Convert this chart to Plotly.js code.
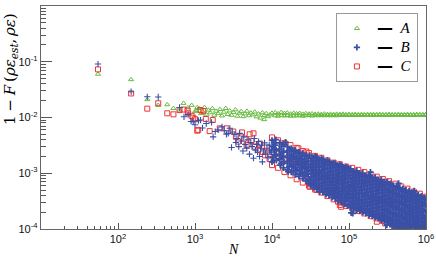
<!DOCTYPE html>
<html><head><meta charset="utf-8">
<script src="https://cdn.plot.ly/plotly-3.0.1.min.js"></script>
<style>html,body{margin:0;padding:0;background:#fff}#chart{width:436px;height:259px}</style>
</head><body><div id="chart"></div>
<script>
// ---- data: [N, 1-F] pairs ----
const seriesNames = ['A', 'B', 'C'];
const xTickVals = [1e2, 1e3, 1e4, 1e5, 1e6];
const xTickText = ['10<sup>2</sup>', '10<sup>3</sup>', '10<sup>4</sup>', '10<sup>5</sup>', '10<sup>6</sup>'];
const yTickVals = [1e-4, 1e-3, 1e-2, 1e-1, 1];
const yTickText = ['10<sup>-4</sup>', '10<sup>-3</sup>', '10<sup>-2</sup>', '10<sup>-1</sup>', '1'];

const ptsA = [
[55,0.060],[148,0.048],[240,0.021],[333,0.0166],[436,0.017],[525,0.0146],[630,0.0136],[710,0.018],[810,0.0150],[905,0.0166],[1000,0.0128],[1070,0.0152],
[1050,0.0135],[1120,0.0146],[1200,0.0118],[1260,0.0128],[1330,0.0152],[1410,0.0112],[1500,0.0136],[1580,0.0122],[1680,0.0145],[1780,0.0110],
[1880,0.0130],[2000,0.0118],[2110,0.0140],[2240,0.0107],[2370,0.0125],[2510,0.0146],[2660,0.0114],[2820,0.0132],[2990,0.0110],[3160,0.0124],
[3350,0.0138],[3550,0.0106],[3760,0.0120],[3980,0.0128],[4220,0.0104],[4470,0.0117],[4730,0.0130],[5010,0.0108],[5310,0.0121],[5620,0.0112],
[5960,0.0126],[6310,0.0103],[6680,0.0116],[7080,0.0098],[7500,0.0122],[7900,0.0092],[7940,0.0109],[8410,0.0118],[8910,0.0104],[9440,0.0112],[1e4,0.0120],
[1.1e4,0.0122],[1.1e4,0.0108],[1.2e4,0.0117],[1.2e4,0.0106],[1.32e4,0.0124],[1.32e4,0.0110],[1.45e4,0.0119],[1.45e4,0.0107],[1.58e4,0.0121],[1.58e4,0.0109],
[1.74e4,0.0116],[1.74e4,0.0106],[1.91e4,0.0120],[1.91e4,0.0108],[2.09e4,0.0117],[2.09e4,0.0107],[2.29e4,0.0119],[2.29e4,0.0109],[2.51e4,0.0115],[2.51e4,0.0106],
[2.75e4,0.0118],[2.75e4,0.0108],[3.02e4,0.0116],[3.02e4,0.0109],[3.31e4,0.0117],[3.31e4,0.0107],[3.63e4,0.0115],[3.63e4,0.0109],[3.98e4,0.0116],[3.98e4,0.0108],
[4.37e4,0.0114],[4.37e4,0.0109],[4.79e4,0.0116],[4.79e4,0.0108],[5.25e4,0.0114],[5.25e4,0.0109],[5.75e4,0.0115],[5.75e4,0.0108],[6.31e4,0.0114],[6.31e4,0.0109],
[6.92e4,0.0115],[6.92e4,0.0108],[7.59e4,0.0114],[7.59e4,0.0110],[8.32e4,0.0115],[8.32e4,0.0109],[9.12e4,0.0113],[9.12e4,0.0109],[1.0e5,0.0114],[1.0e5,0.0110],
[1.1e5,0.0113],[1.1e5,0.0109],[1.2e5,0.0114],[1.2e5,0.0110],[1.32e5,0.0113],[1.32e5,0.0109],[1.45e5,0.0114],[1.45e5,0.0110],[1.58e5,0.0113],[1.58e5,0.0109],
[1.74e5,0.0114],[1.74e5,0.0110],[1.91e5,0.0113],[1.91e5,0.0110],[2.09e5,0.0114],[2.09e5,0.0109],[2.29e5,0.0113],[2.29e5,0.0110],[2.51e5,0.0114],[2.51e5,0.0110],
[2.75e5,0.0113],[2.75e5,0.0109],[3.02e5,0.0113],[3.02e5,0.0110],[3.31e5,0.0114],[3.31e5,0.0110],[3.63e5,0.0113],[3.63e5,0.0109],[3.98e5,0.0113],[3.98e5,0.0110],
[4.37e5,0.0114],[4.37e5,0.0110],[4.79e5,0.0113],[4.79e5,0.0110],[5.25e5,0.0113],[5.25e5,0.0109],[5.75e5,0.0114],[5.75e5,0.0110],[6.31e5,0.0113],[6.31e5,0.0110],
[6.92e5,0.0113],[6.92e5,0.0109],[7.59e5,0.0114],[7.59e5,0.0110],[8.32e5,0.0113],[8.32e5,0.0110],[9.12e5,0.0113],[9.12e5,0.0109],[9.9e5,0.0113],[9.9e5,0.0110]
];

const ptsB = [
[55,0.091],[148,0.029],[240,0.0235],[333,0.0233],[630,0.0151],[720,0.0103],[813,0.0114],[890,0.0085],[950,0.0084],[1000,0.0074],[1110,0.0088],
[1180,0.0090],[1250,0.0065],[1400,0.0078],[1640,0.0082],[1720,0.0045],[1830,0.0056],[2000,0.0060],[2240,0.0068],[2400,0.0058],[2560,0.0050],
[2700,0.0052],[2830,0.0064],[2980,0.0029],[3050,0.0055],
[3300,5.0e-3],[3400,3.55e-3],[3500,4.2e-3],[3700,3.0e-3],[3800,5.2e-3],[4000,3.8e-3],[4200,2.5e-3],[4300,4.5e-3],[4500,3.3e-3],[4700,2.8e-3],
[4900,4.0e-3],[5100,2.2e-3],[5300,3.55e-3],[5500,3.0e-3],[5750,1.86e-3],[5900,4.2e-3],[6100,2.6e-3],[6300,3.3e-3],[6500,2.4e-3],[6700,3.7e-3],
[6900,2.0e-3],[7100,2.8e-3],[7300,3.2e-3],[7500,1.6e-3],[7800,2.5e-3],[8000,3.5e-3],[8300,2.2e-3],[8600,2.8e-3],[8900,1.9e-3],[9200,3.2e-3],[9500,2.4e-3],[9800,2.6e-3],
[1.0e4,3.9e-3],[1.01e4,3.0e-3],[9.9e3,2.4e-3],[1.02e4,1.9e-3],[1.0e4,1.6e-3],
[1.06e4,3.5e-3],[1.06e4,2.7e-3],[1.07e4,2.15e-3],[1.05e4,1.7e-3],
[1.12e4,4.0e-3],[1.11e4,3.2e-3],[1.13e4,2.6e-3],[1.12e4,2.1e-3],[1.14e4,1.7e-3],
[1.26e4,3.5e-3],[1.25e4,2.7e-3],[1.27e4,2.2e-3],[1.26e4,1.8e-3],[1.28e4,1.4e-3],
[1.33e4,3.0e-3],[1.33e4,2.4e-3],[1.34e4,1.95e-3],[1.32e4,1.5e-3],
[1.41e4,3.3e-3],[1.42e4,2.5e-3],[1.40e4,2.0e-3],[1.43e4,1.6e-3],[1.41e4,1.25e-3],
[1.58e4,3.0e-3],[1.57e4,2.4e-3],[1.59e4,1.9e-3],[1.58e4,1.5e-3],[1.60e4,1.15e-3],[1.62e4,1.07e-3],[1.5e4,3.6e-3],
[1.68e4,2.6e-3],[1.68e4,2.1e-3],[1.69e4,1.65e-3],[1.67e4,1.3e-3],
[1.78e4,2.8e-3],[1.79e4,2.2e-3],[1.77e4,1.75e-3],[1.80e4,1.35e-3],[1.78e4,1.05e-3],
[1.89e4,2.45e-3],[1.89e4,1.9e-3],[1.88e4,1.45e-3],[1.90e4,1.12e-3],
[2.0e4,2.6e-3],[1.99e4,2.0e-3],[2.02e4,1.6e-3],[2.0e4,1.25e-3],[2.01e4,9.5e-4],
[2.11e4,2.3e-3],[2.11e4,1.8e-3],[2.12e4,1.4e-3],[2.10e4,1.1e-3],
[2.24e4,2.4e-3],[2.25e4,1.9e-3],[2.23e4,1.5e-3],[2.26e4,1.15e-3],[2.24e4,8.8e-4],
[2.37e4,2.1e-3],[2.37e4,1.65e-3],[2.38e4,1.28e-3],[2.36e4,9.8e-4],
[2.51e4,2.3e-3],[2.50e4,1.8e-3],[2.52e4,1.4e-3],[2.51e4,1.05e-3],[2.53e4,8.0e-4],
[2.66e4,2.0e-3],[2.66e4,1.55e-3],[2.67e4,1.2e-3],[2.65e4,9.0e-4],
[2.82e4,2.1e-3],[2.83e4,1.65e-3],[2.81e4,1.3e-3],[2.84e4,9.8e-4],[2.82e4,7.3e-4],
[2.98e4,1.85e-3],[2.98e4,1.45e-3],[2.99e4,1.12e-3],[2.97e4,8.6e-4],[2.98e4,6.6e-4],
[3.10e4,2.1e-3],[3.20e4,1.62e-3],[3.15e4,1.26e-3],[3.22e4,9.8e-4],[3.12e4,7.6e-4],[3.18e4,6.0e-4],
[3.31e4,1.85e-3],[3.31e4,1.43e-3],[3.32e4,1.11e-3],[3.30e4,8.6e-4],[3.31e4,6.75e-4],
[3.47e4,1.9e-3],[3.45e4,1.47e-3],[3.49e4,1.14e-3],[3.46e4,8.8e-4],[3.50e4,6.8e-4],[3.47e4,5.5e-4],
[3.63e4,2.0e-3],[3.63e4,1.67e-3],[3.64e4,1.3e-3],[3.62e4,1.0e-3],[3.63e4,7.7e-4],[3.64e4,6.1e-4],
[3.80e4,1.95e-3],[3.82e4,1.5e-3],[3.78e4,1.15e-3],[3.81e4,8.9e-4],[3.79e4,6.8e-4],[3.80e4,5.2e-4],
[3.98e4,1.71e-3],[3.98e4,1.31e-3],[3.99e4,1.01e-3],[3.97e4,7.8e-4],[3.98e4,5.9e-4],
[4.17e4,1.7e-3],[4.15e4,1.3e-3],[4.19e4,1.0e-3],[4.16e4,7.7e-4],[4.18e4,5.9e-4],[4.17e4,4.7e-4],
[4.37e4,1.85e-3],[4.37e4,1.49e-3],[4.38e4,1.14e-3],[4.36e4,8.8e-4],[4.37e4,6.7e-4],[4.38e4,5.3e-4],
[4.57e4,1.78e-3],[4.59e4,1.36e-3],[4.55e4,1.04e-3],[4.58e4,7.9e-4],[4.56e4,6.0e-4],[4.57e4,4.6e-4],
[4.79e4,1.56e-3],[4.79e4,1.19e-3],[4.80e4,9.1e-4],[4.78e4,6.9e-4],[4.79e4,5.3e-4],
[5.01e4,1.6e-3],[4.99e4,1.22e-3],[5.03e4,9.2e-4],[5.0e4,7.0e-4],[5.02e4,5.3e-4],[5.01e4,4.2e-4],
[5.25e4,1.7e-3],[5.25e4,1.4e-3],[5.26e4,1.06e-3],[5.24e4,8.0e-4],[5.25e4,6.1e-4],[5.26e4,4.7e-4],
[5.50e4,1.62e-3],[5.52e4,1.22e-3],[5.48e4,9.2e-4],[5.51e4,7.0e-4],[5.49e4,5.3e-4],[5.50e4,4.0e-4],
[5.75e4,1.41e-3],[5.75e4,1.06e-3],[5.76e4,8.0e-4],[5.74e4,6.1e-4],[5.75e4,4.6e-4],
[6.03e4,1.45e-3],[6.01e4,1.1e-3],[6.05e4,8.3e-4],[6.02e4,6.3e-4],[6.04e4,4.8e-4],[6.03e4,3.7e-4],
[6.31e4,1.52e-3],[6.31e4,1.26e-3],[6.32e4,9.6e-4],[6.30e4,7.2e-4],[6.31e4,5.5e-4],[6.32e4,4.2e-4],
[6.61e4,1.48e-3],[6.63e4,1.1e-3],[6.59e4,8.2e-4],[6.62e4,6.1e-4],[6.60e4,4.6e-4],[6.61e4,3.5e-4],
[6.92e4,1.28e-3],[6.92e4,9.5e-4],[6.93e4,7.1e-4],[6.91e4,5.3e-4],[6.92e4,4.0e-4],
[7.24e4,1.35e-3],[7.22e4,1.0e-3],[7.26e4,7.5e-4],[7.23e4,5.6e-4],[7.25e4,4.2e-4],[7.24e4,3.2e-4],
[7.59e4,1.42e-3],[7.59e4,1.16e-3],[7.60e4,8.7e-4],[7.58e4,6.5e-4],[7.59e4,4.85e-4],[7.60e4,3.7e-4],
[7.94e4,1.38e-3],[7.96e4,1.02e-3],[7.92e4,7.5e-4],[7.95e4,5.5e-4],[7.93e4,4.1e-4],[7.94e4,3.0e-4],
[8.32e4,1.19e-3],[8.32e4,8.7e-4],[8.33e4,6.4e-4],[8.31e4,4.75e-4],[8.32e4,3.5e-4],
[8.71e4,1.25e-3],[8.69e4,9.3e-4],[8.73e4,6.9e-4],[8.70e4,5.1e-4],[8.72e4,3.8e-4],[8.71e4,2.8e-4],
[9.12e4,1.3e-3],[9.12e4,1.08e-3],[9.13e4,8.0e-4],[9.11e4,5.9e-4],[9.12e4,4.4e-4],[9.13e4,3.3e-4],
[9.55e4,1.26e-3],[9.57e4,9.2e-4],[9.53e4,6.7e-4],[9.56e4,4.9e-4],[9.54e4,3.6e-4],[9.55e4,2.6e-4],
[1.0e5,1.08e-3],[1.0e5,7.9e-4],[1.0e5,5.7e-4],[1.0e5,4.2e-4],[1.0e5,3.1e-4],
[1.05e5,1.2e-3],[1.05e5,9.2e-4],[1.06e5,7.0e-4],[1.04e5,5.4e-4],[1.05e5,4.1e-4],[1.06e5,3.1e-4],[1.05e5,2.45e-4],
[1.10e5,1.05e-3],[1.10e5,8.0e-4],[1.10e5,6.15e-4],[1.10e5,4.7e-4],[1.10e5,3.6e-4],[1.10e5,2.75e-4],
[1.15e5,1.08e-3],[1.15e5,8.2e-4],[1.16e5,6.3e-4],[1.14e5,4.8e-4],[1.15e5,3.7e-4],[1.16e5,2.8e-4],[1.15e5,2.3e-4],
[1.20e5,9.4e-4],[1.20e5,7.2e-4],[1.20e5,5.5e-4],[1.20e5,4.2e-4],[1.20e5,3.2e-4],[1.20e5,2.55e-4],
[1.26e5,1.1e-3],[1.26e5,8.4e-4],[1.27e5,6.4e-4],[1.25e5,4.9e-4],[1.26e5,3.7e-4],[1.27e5,2.8e-4],[1.26e5,2.2e-4],
[1.32e5,9.6e-4],[1.32e5,7.3e-4],[1.32e5,5.6e-4],[1.32e5,4.25e-4],[1.32e5,3.2e-4],[1.32e5,2.5e-4],
[1.38e5,9.8e-4],[1.38e5,7.5e-4],[1.39e5,5.7e-4],[1.37e5,4.4e-4],[1.38e5,3.35e-4],[1.39e5,2.55e-4],[1.38e5,2.1e-4],
[1.45e5,8.6e-4],[1.45e5,6.5e-4],[1.45e5,5.0e-4],[1.45e5,3.85e-4],[1.45e5,2.9e-4],[1.45e5,2.3e-4],
[1.51e5,1.0e-3],[1.51e5,7.6e-4],[1.52e5,5.8e-4],[1.50e5,4.4e-4],[1.51e5,3.35e-4],[1.52e5,2.55e-4],[1.51e5,2.0e-4],
[1.58e5,8.7e-4],[1.58e5,6.6e-4],[1.58e5,5.05e-4],[1.58e5,3.85e-4],[1.58e5,2.9e-4],[1.58e5,2.25e-4],
[1.66e5,9.0e-4],[1.66e5,6.9e-4],[1.67e5,5.2e-4],[1.65e5,4.0e-4],[1.66e5,3.0e-4],[1.67e5,2.3e-4],[1.66e5,1.9e-4],
[1.74e5,7.9e-4],[1.74e5,6.0e-4],[1.74e5,4.55e-4],[1.74e5,3.45e-4],[1.74e5,2.6e-4],[1.74e5,2.1e-4],
[1.82e5,9.2e-4],[1.82e5,7.0e-4],[1.83e5,5.3e-4],[1.81e5,4.0e-4],[1.82e5,3.05e-4],[1.83e5,2.3e-4],[1.82e5,1.78e-4],
[1.91e5,8.0e-4],[1.91e5,6.1e-4],[1.91e5,4.6e-4],[1.91e5,3.5e-4],[1.91e5,2.65e-4],[1.91e5,2.0e-4],
[2.0e5,8.3e-4],[2.0e5,6.3e-4],[2.01e5,4.8e-4],[1.99e5,3.65e-4],[2.0e5,2.8e-4],[2.01e5,2.1e-4],[2.0e5,1.7e-4],
[2.09e5,7.2e-4],[2.09e5,5.5e-4],[2.09e5,4.2e-4],[2.09e5,3.2e-4],[2.09e5,2.4e-4],[2.09e5,1.9e-4],
[2.19e5,8.4e-4],[2.19e5,6.4e-4],[2.20e5,4.8e-4],[2.18e5,3.65e-4],[2.19e5,2.75e-4],[2.20e5,2.1e-4],[2.19e5,1.62e-4],
[2.29e5,7.3e-4],[2.29e5,5.5e-4],[2.29e5,4.2e-4],[2.29e5,3.15e-4],[2.29e5,2.4e-4],[2.29e5,1.85e-4],
[2.40e5,7.6e-4],[2.40e5,5.8e-4],[2.41e5,4.4e-4],[2.39e5,3.3e-4],[2.40e5,2.5e-4],[2.41e5,1.9e-4],[2.40e5,1.55e-4],
[2.51e5,6.6e-4],[2.51e5,5.05e-4],[2.51e5,3.8e-4],[2.51e5,2.9e-4],[2.51e5,2.2e-4],[2.51e5,1.72e-4],
[2.63e5,7.7e-4],[2.63e5,5.8e-4],[2.64e5,4.4e-4],[2.62e5,3.3e-4],[2.63e5,2.5e-4],[2.64e5,1.9e-4],[2.63e5,1.45e-4],
[2.75e5,6.7e-4],[2.75e5,5.05e-4],[2.75e5,3.8e-4],[2.75e5,2.9e-4],[2.75e5,2.2e-4],[2.75e5,1.66e-4],
[2.88e5,7.0e-4],[2.88e5,5.3e-4],[2.89e5,4.0e-4],[2.87e5,3.0e-4],[2.88e5,2.3e-4],[2.89e5,1.75e-4],[2.88e5,1.38e-4],
[3.02e5,6.1e-4],[3.02e5,4.6e-4],[3.02e5,3.45e-4],[3.02e5,2.6e-4],[3.02e5,2.0e-4],[3.02e5,1.55e-4],
[3.16e5,7.0e-4],[3.16e5,5.3e-4],[3.17e5,4.0e-4],[3.15e5,3.0e-4],[3.16e5,2.25e-4],[3.17e5,1.7e-4],[3.16e5,1.32e-4],
[3.31e5,6.1e-4],[3.31e5,4.6e-4],[3.31e5,3.45e-4],[3.31e5,2.6e-4],[3.31e5,1.95e-4],[3.31e5,1.5e-4],
[3.47e5,6.5e-4],[3.47e5,4.9e-4],[3.48e5,3.7e-4],[3.46e5,2.8e-4],[3.47e5,2.1e-4],[3.48e5,1.6e-4],[3.47e5,1.25e-4],
[3.63e5,5.65e-4],[3.63e5,4.25e-4],[3.63e5,3.2e-4],[3.63e5,2.45e-4],[3.63e5,1.85e-4],[3.63e5,1.42e-4],[3.63e5,1.1e-4],
[3.80e5,6.0e-4],[3.80e5,4.5e-4],[3.81e5,3.4e-4],[3.79e5,2.6e-4],[3.80e5,1.95e-4],[3.81e5,1.48e-4],[3.80e5,1.18e-4],
[3.98e5,5.2e-4],[3.98e5,3.9e-4],[3.98e5,2.95e-4],[3.98e5,2.25e-4],[3.98e5,1.7e-4],[3.98e5,1.32e-4],[3.98e5,1.05e-4],
[4.17e5,5.9e-4],[4.17e5,4.4e-4],[4.18e5,3.3e-4],[4.16e5,2.5e-4],[4.17e5,1.9e-4],[4.18e5,1.45e-4],[4.17e5,1.12e-4],
[4.37e5,5.1e-4],[4.37e5,3.8e-4],[4.37e5,2.9e-4],[4.37e5,2.2e-4],[4.37e5,1.65e-4],[4.37e5,1.28e-4],[4.37e5,1.02e-4],
[4.57e5,5.5e-4],[4.57e5,4.1e-4],[4.58e5,3.1e-4],[4.56e5,2.35e-4],[4.57e5,1.8e-4],[4.58e5,1.38e-4],[4.57e5,1.08e-4],
[4.79e5,4.75e-4],[4.79e5,3.55e-4],[4.79e5,2.7e-4],[4.79e5,2.05e-4],[4.79e5,1.58e-4],[4.79e5,1.22e-4],
[5.01e5,5.3e-4],[5.01e5,4.0e-4],[5.02e5,3.0e-4],[5.00e5,2.25e-4],[5.01e5,1.7e-4],[5.02e5,1.3e-4],[5.01e5,1.03e-4],
[5.25e5,4.6e-4],[5.25e5,3.45e-4],[5.25e5,2.6e-4],[5.25e5,1.95e-4],[5.25e5,1.5e-4],[5.25e5,1.16e-4],
[5.50e5,5.0e-4],[5.50e5,3.75e-4],[5.51e5,2.8e-4],[5.49e5,2.1e-4],[5.50e5,1.6e-4],[5.51e5,1.25e-4],[5.50e5,1.0e-4],
[5.75e5,4.35e-4],[5.75e5,3.25e-4],[5.75e5,2.45e-4],[5.75e5,1.85e-4],[5.75e5,1.42e-4],[5.75e5,1.12e-4],
[6.03e5,4.8e-4],[6.03e5,3.6e-4],[6.04e5,2.7e-4],[6.02e5,2.05e-4],[6.03e5,1.55e-4],[6.04e5,1.2e-4],[6.03e5,1.0e-4],
[6.31e5,4.15e-4],[6.31e5,3.1e-4],[6.31e5,2.35e-4],[6.31e5,1.78e-4],[6.31e5,1.36e-4],[6.31e5,1.1e-4],
[6.61e5,4.5e-4],[6.61e5,3.4e-4],[6.62e5,2.55e-4],[6.60e5,1.95e-4],[6.61e5,1.5e-4],[6.62e5,1.18e-4],
[6.92e5,3.9e-4],[6.92e5,2.95e-4],[6.92e5,2.25e-4],[6.92e5,1.7e-4],[6.92e5,1.33e-4],[6.92e5,1.06e-4],
[7.24e5,4.3e-4],[7.24e5,3.3e-4],[7.25e5,2.5e-4],[7.23e5,1.9e-4],[7.24e5,1.45e-4],[7.25e5,1.12e-4],
[7.59e5,3.75e-4],[7.59e5,2.85e-4],[7.59e5,2.2e-4],[7.59e5,1.65e-4],[7.59e5,1.28e-4],[7.59e5,1.04e-4],
[7.94e5,4.1e-4],[7.94e5,3.1e-4],[7.95e5,2.35e-4],[7.93e5,1.8e-4],[7.94e5,1.38e-4],[7.95e5,1.06e-4],
[8.32e5,3.55e-4],[8.32e5,2.7e-4],[8.32e5,2.05e-4],[8.32e5,1.58e-4],[8.32e5,1.2e-4],[8.32e5,1.02e-4],
[8.71e5,3.9e-4],[8.71e5,3.0e-4],[8.72e5,2.3e-4],[8.70e5,1.75e-4],[8.71e5,1.35e-4],[8.72e5,1.05e-4],
[9.12e5,3.4e-4],[9.12e5,2.6e-4],[9.12e5,2.0e-4],[9.12e5,1.52e-4],[9.12e5,1.18e-4],[9.12e5,1.01e-4],
[9.55e5,3.6e-4],[9.55e5,2.8e-4],[9.56e5,2.15e-4],[9.54e5,1.65e-4],[9.55e5,1.3e-4],[9.56e5,1.02e-4],
[9.9e5,3.5e-4],[9.9e5,2.7e-4],[9.9e5,2.05e-4],[9.9e5,1.6e-4],[9.9e5,1.25e-4],[9.9e5,1.01e-4],
[1.07e5,1.95e-4],[1.12e5,1.9e-4],[3.1e5,1.18e-4],[1.9e5,1.05e-3],[4.4e5,6.6e-4],[7.0e5,4.8e-4]
];

const ptsC = [
[55,0.073],[148,0.027],[240,0.0144],[333,0.018],[436,0.0119],[525,0.0114],[630,0.0136],[710,0.0139],[800,0.0134],[813,0.0119],
[905,0.0107],[950,0.0099],[1000,0.0093],[1070,0.0058],[1100,0.0060],[1180,0.0136],[1280,0.0130],[1380,0.0094],[1550,0.0057],[1700,0.0090],
[2100,0.0064],[2560,0.0064],[3140,0.0056],[3400,0.0045],[3630,0.0037],[4070,0.0054],[4400,0.0042],[4680,0.0032],[5130,0.0050],[5400,0.0038],
[5750,0.0052],[6000,0.0030],[6620,0.0026],[7000,0.0034],[7600,0.0024],[8130,0.0021],[8600,0.0029],[9300,0.0018],
[1.0e4,4.4e-3],[1.0e4,2.4e-3],[1.0e4,1.4e-3],
[1.2e4,3.9e-3],[1.2e4,2.2e-3],[1.2e4,1.25e-3],
[1.45e4,3.5e-3],[1.45e4,1.9e-3],[1.45e4,1.05e-3],
[1.74e4,3.2e-3],[1.74e4,1.75e-3],[1.74e4,9.2e-4],
[2.09e4,2.85e-3],[2.09e4,1.55e-3],[2.09e4,7.8e-4],
[2.51e4,2.5e-3],[2.51e4,1.35e-3],[2.51e4,6.8e-4],
[3.02e4,2.3e-3],[3.02e4,1.2e-3],[3.02e4,6.0e-4],
[3.63e4,2.05e-3],[3.63e4,1.05e-3],[3.63e4,5.1e-4],
[4.37e4,1.9e-3],[4.37e4,9.5e-4],[4.37e4,4.5e-4],
[5.25e4,1.7e-3],[5.25e4,8.4e-4],[5.25e4,3.9e-4],
[6.31e4,1.55e-3],[6.31e4,7.6e-4],[6.31e4,3.4e-4],
[7.59e4,1.45e-3],[7.59e4,6.9e-4],[7.59e4,3.0e-4],
[9.12e4,1.32e-3],[9.12e4,6.2e-4],[9.12e4,2.6e-4],
[1.1e5,1.25e-3],[1.1e5,5.6e-4],[1.1e5,2.35e-4],
[1.32e5,1.15e-3],[1.32e5,5.1e-4],[1.32e5,2.1e-4],
[1.58e5,1.05e-3],[1.58e5,4.6e-4],[1.58e5,1.9e-4],
[1.91e5,9.5e-4],[1.91e5,4.2e-4],[1.91e5,1.7e-4],
[2.29e5,8.7e-4],[2.29e5,3.8e-4],[2.29e5,1.55e-4],
[2.75e5,7.9e-4],[2.75e5,3.4e-4],[2.75e5,1.4e-4],
[3.31e5,7.2e-4],[3.31e5,3.1e-4],[3.31e5,1.28e-4],
[3.98e5,6.5e-4],[3.98e5,2.8e-4],[3.98e5,1.16e-4],
[4.79e5,5.8e-4],[4.79e5,2.6e-4],[4.79e5,1.06e-4],
[5.75e5,5.3e-4],[5.75e5,2.4e-4],[5.75e5,1.02e-4],
[6.92e5,4.7e-4],[6.92e5,2.2e-4],[6.92e5,1.01e-4],
[8.32e5,4.3e-4],[8.32e5,2.0e-4],[8.32e5,1.02e-4],
[9.9e5,3.8e-4],[9.9e5,1.9e-4],[9.9e5,1.02e-4],
[3.8e4,5.0e-4],[3.1e4,5.7e-4],[6.6e4,4.1e-4],[7.6e4,2.7e-4],[2.95e4,7.1e-4],[7.2e4,3.1e-4],[7.9e4,2.5e-4],[2.3e5,1.35e-4],
[2.95e5,1.26e-4],[2.8e4,2.45e-3],[2.2e4,2.8e-3],[1.5e5,8.3e-4],[3.7e5,5.4e-4],[1.7e5,8.3e-4],[2.75e5,5.7e-4]
];

const colA = '#66bb3f', colB = '#3a4fa6', colC = '#f03535';
const xs = p => p.map(d => d[0]);
const ys = p => p.map(d => d[1]);
// thin pluses where points are sparse, bolder strokes where the cloud is dense
const plusWidth = p => p.map(d => (d[0] < 1e4 ? 1.1 : 1.8));
const legendLabel = n => '<span style="font-family:DejaVu Sans;font-weight:bold;font-size:16px">\u2014</span>\u2002\u2009<span style="font-size:15px"><i>' + n + '</i></span>';

const traces = [
  {x: xs(ptsA), y: ys(ptsA), name: legendLabel(seriesNames[0]), legendrank: 1, type: 'scatter', mode: 'markers',
   marker: {symbol: 'triangle-up-open', size: 4.5, color: colA, line: {color: colA, width: 1}}},
  {x: xs(ptsC), y: ys(ptsC), name: legendLabel(seriesNames[2]), legendrank: 3, type: 'scatter', mode: 'markers',
   marker: {symbol: 'square-open', size: 5, color: colC, line: {color: colC, width: 1}}},
  {x: xs(ptsB), y: ys(ptsB), name: legendLabel(seriesNames[1]), legendrank: 2, type: 'scatter', mode: 'markers',
   marker: {symbol: 'cross-thin-open', size: 4.5, color: colB, line: {color: colB, width: plusWidth(ptsB)}}}
];

const axisCommon = {
  type: 'log', showgrid: false, zeroline: false, showline: true, linecolor: '#666', linewidth: 1.2, mirror: true,
  ticks: 'inside', tickcolor: '#555', tickfont: {family: 'Liberation Sans', size: 11, color: '#111'},
  tickmode: 'array'
};

const layout = {
  width: 436, height: 259,
  margin: {l: 41, r: 10, t: 6, b: 30},
  paper_bgcolor: '#fff', plot_bgcolor: '#fff',
  showlegend: true,
  legend: {x: 0.979, xanchor: 'right', y: 0.969, yanchor: 'top', bgcolor: '#fff', bordercolor: '#999', borderwidth: 1,
           font: {family: 'Liberation Serif', size: 11, color: '#000'}, tracegroupgap: 0},
  xaxis: Object.assign({}, axisCommon, {range: [1, 6], tickvals: xTickVals, ticktext: xTickText, ticklen: 6,
           minor: {ticks: 'inside', ticklen: 3, tickcolor: '#555', dtick: 'D1', showgrid: false}}),
  yaxis: Object.assign({}, axisCommon, {range: [-4, 0], tickvals: yTickVals, ticktext: yTickText, ticklen: 11,
           minor: {ticks: 'inside', ticklen: 5, tickcolor: '#555', dtick: 'D1', showgrid: false}}),
  annotations: [
    {text: '1\u2005\u2212\u2005<i>F</i>\u2009(<i>\u03c1\u03b5</i><sub><i>est</i></sub>,\u2006<i>\u03c1\u03b5</i>)', xref: 'paper', yref: 'paper',
     x: 0, xshift: -30, y: 0.7175, xanchor: 'center', yanchor: 'middle', textangle: -90, showarrow: false,
     font: {family: 'DejaVu Serif', size: 15, color: '#000'}},
    {text: '<i>N</i>', xref: 'paper', yref: 'paper', x: 0.5, y: -0.1345, xanchor: 'center', yanchor: 'bottom',
     showarrow: false, font: {family: 'Liberation Serif', size: 14, color: '#000'}}
  ]
};

Plotly.newPlot('chart', traces, layout, {displayModeBar: false, staticPlot: true});
</script></body></html>
